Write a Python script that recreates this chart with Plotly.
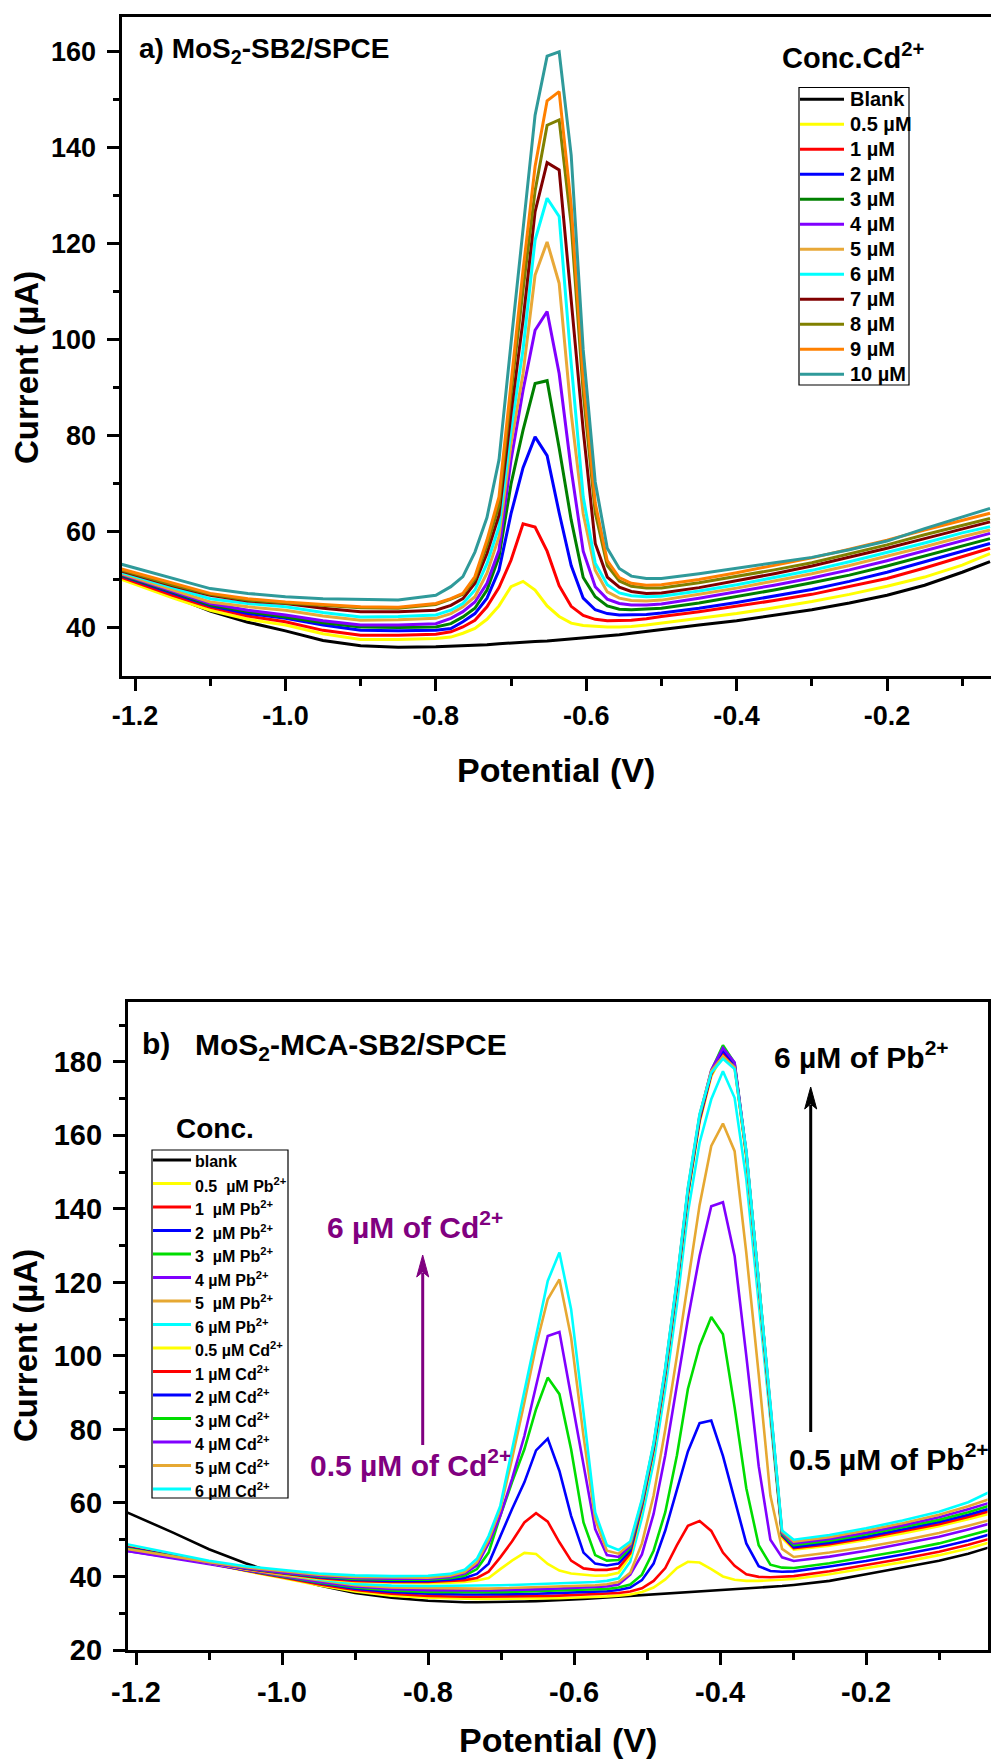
import plotly.graph_objects as go

W, H = 991, 1760

# ---------------- Panel a: MoS2-SB2/SPCE, Cd2+ additions ----------------
potential_a = [-1.221, -1.15, -1.10, -1.05, -1.00, -0.95, -0.90, -0.85, -0.80, -0.78,
               -0.764, -0.748, -0.732, -0.716, -0.700, -0.684, -0.668, -0.652, -0.636, -0.620,
               -0.604, -0.588, -0.572, -0.556, -0.540, -0.52, -0.50, -0.45, -0.40, -0.35,
               -0.30, -0.25, -0.20, -0.15, -0.10, -0.063]

blank_a = [50.7, 46.6, 43.5, 41.2, 39.4, 37.4, 36.3, 36.0, 36.1, 36.2, 36.3, 36.4, 36.5, 36.7, 36.9, 37.1, 37.2, 37.3, 37.5, 37.7, 37.9, 38.1, 38.3, 38.6, 38.9, 39.3, 39.7, 40.6, 41.5, 42.6, 43.8, 45.2, 46.8, 48.9, 51.6, 53.8]
cd05_a = [50.3, 46.3, 43.7, 41.8, 40.6, 38.8, 37.6, 37.6, 37.8, 38.1, 38.9, 39.9, 41.8, 44.6, 48.6, 49.7, 47.9, 44.6, 42.4, 41.0, 40.5, 40.3, 40.2, 40.2, 40.3, 40.6, 41.0, 42.0, 43.0, 44.2, 45.5, 47.0, 48.7, 50.6, 53.1, 55.5]
cd1_a = [50.7, 46.8, 44.3, 42.5, 41.3, 39.5, 38.5, 38.5, 38.7, 39.2, 40.2, 41.6, 44.4, 48.4, 54.1, 61.7, 61.0, 56.0, 48.8, 44.5, 42.6, 41.8, 41.5, 41.5, 41.6, 41.9, 42.4, 43.4, 44.5, 45.7, 47.0, 48.6, 50.3, 52.5, 54.8, 56.6]
cd2_a = [51.0, 47.2, 44.6, 43.0, 42.0, 40.6, 39.5, 39.4, 39.5, 39.9, 41.3, 43.0, 46.2, 52.0, 63.8, 73.4, 79.8, 75.9, 64.0, 53.0, 46.2, 43.8, 43.0, 42.7, 42.7, 42.8, 43.1, 44.1, 45.3, 46.6, 48.0, 49.7, 51.6, 53.8, 55.9, 57.6]
cd3_a = [51.1, 47.5, 44.8, 43.4, 42.3, 41.1, 40.2, 40.1, 40.2, 40.9, 42.3, 44.1, 47.9, 54.8, 70.0, 81.2, 90.9, 91.5, 77.5, 62.5, 50.5, 46.5, 44.6, 43.9, 43.8, 43.9, 44.1, 45.2, 46.5, 47.9, 49.4, 51.0, 52.9, 55.0, 57.1, 58.6]
cd4_a = [51.3, 47.7, 45.1, 43.7, 42.7, 41.5, 40.6, 40.6, 40.9, 42.0, 43.4, 45.4, 49.3, 56.2, 75.0, 89.5, 102.0, 105.9, 93.0, 73.0, 56.0, 48.6, 46.0, 45.1, 44.8, 44.8, 45.0, 46.2, 47.5, 48.9, 50.4, 52.1, 54.0, 56.1, 58.2, 59.7]
cd5_a = [51.5, 48.0, 45.4, 44.4, 43.7, 42.5, 41.6, 41.7, 42.0, 43.0, 44.4, 46.5, 51.4, 59.0, 78.4, 93.0, 113.5, 120.4, 111.8, 84.7, 63.8, 52.0, 47.5, 46.2, 45.7, 45.6, 45.8, 47.0, 48.3, 49.8, 51.3, 53.0, 54.9, 56.9, 59.0, 60.4]
cd6_a = [51.7, 48.4, 46.1, 45.1, 44.4, 43.2, 42.3, 42.4, 42.7, 43.7, 45.1, 47.9, 53.4, 61.1, 81.2, 98.0, 120.8, 129.5, 125.7, 95.1, 67.3, 53.5, 49.0, 47.3, 46.7, 46.5, 46.6, 47.7, 49.0, 50.5, 52.0, 53.8, 55.7, 57.7, 59.8, 61.1]
cd7_a = [52.0, 48.8, 46.8, 45.6, 45.1, 44.1, 43.4, 43.4, 43.7, 44.7, 46.1, 49.3, 55.5, 63.5, 84.7, 104.1, 126.7, 136.9, 135.4, 107.6, 81.2, 57.6, 50.6, 48.5, 47.6, 47.2, 47.3, 48.4, 49.8, 51.3, 52.9, 54.7, 56.6, 58.6, 60.7, 62.1]
cd8_a = [52.2, 49.0, 47.0, 45.8, 45.2, 44.7, 44.2, 44.1, 44.9, 46.0, 47.0, 50.2, 57.2, 65.5, 88.8, 110.4, 131.0, 144.7, 145.8, 124.0, 89.0, 64.0, 53.0, 49.8, 48.7, 48.3, 48.3, 49.4, 50.7, 52.1, 53.6, 55.4, 57.3, 59.4, 61.4, 62.8]
cd9_a = [52.4, 49.3, 47.2, 46.1, 45.4, 44.9, 44.4, 44.3, 45.1, 46.1, 47.2, 50.7, 58.3, 67.3, 91.6, 114.5, 136.1, 149.8, 151.7, 128.0, 92.0, 66.0, 54.0, 50.5, 49.3, 48.9, 49.0, 50.1, 51.5, 53.0, 54.6, 56.4, 58.3, 60.4, 62.5, 63.9]
cd10_a = [53.4, 50.3, 48.2, 47.2, 46.5, 46.1, 45.9, 45.8, 46.8, 48.6, 50.7, 55.8, 63.0, 75.0, 99.3, 123.6, 146.8, 159.1, 160.0, 138.5, 97.9, 70.4, 56.6, 52.4, 50.8, 50.3, 50.3, 51.3, 52.4, 53.5, 54.7, 56.3, 58.1, 60.7, 63.1, 64.9]

labels_a = ["Blank", "0.5 µM", "1 µM", "2 µM", "3 µM", "4 µM", "5 µM", "6 µM",
            "7 µM", "8 µM", "9 µM", "10 µM"]
colors_a = ["#000000", "#FFFF00", "#FF0000", "#0000FF", "#008000", "#8000FF", "#E8A838",
            "#00FFFF", "#800000", "#808000", "#FF8000", "#2F9A9A"]
series_a = [blank_a, cd05_a, cd1_a, cd2_a, cd3_a, cd4_a, cd5_a, cd6_a, cd7_a, cd8_a, cd9_a, cd10_a]

# ---------------- Panel b: MoS2-MCA-SB2/SPCE, Pb2+ then Cd2+ additions ----------------
potential_b = [-1.213, -1.15, -1.10, -1.05, -1.00, -0.95, -0.90, -0.85, -0.80, -0.77,
               -0.75, -0.733, -0.717, -0.701, -0.685, -0.668, -0.652, -0.636, -0.620, -0.604,
               -0.587, -0.571, -0.555, -0.539, -0.523, -0.507, -0.491, -0.475, -0.459, -0.444,
               -0.428, -0.412, -0.396, -0.380, -0.364, -0.347, -0.331, -0.315, -0.299, -0.25,
               -0.20, -0.15, -0.10, -0.06, -0.0315]

blank_b = [57.5, 52.0, 47.4, 43.6, 40.3, 37.6, 35.5, 34.2, 33.4, 33.1, 33.0, 33.0, 33.0, 33.0, 33.1, 33.2, 33.3, 33.4, 33.5, 33.7, 33.9, 34.1, 34.3, 34.5, 34.7, 34.9, 35.1, 35.3, 35.5, 35.7, 35.9, 36.1, 36.3, 36.5, 36.7, 36.9, 37.1, 37.4, 37.7, 38.8, 40.6, 42.4, 44.3, 46.2, 47.9]
pb05_b = [48.3, 45.6, 43.5, 41.5, 39.6, 37.6, 35.9, 34.8, 34.2, 34.0, 33.9, 33.9, 33.9, 33.9, 33.9, 33.9, 34.0, 34.0, 34.1, 34.2, 34.3, 34.4, 34.6, 34.8, 35.1, 35.8, 37.0, 39.2, 42.3, 44.0, 43.8, 42.0, 40.0, 39.1, 38.8, 38.8, 38.9, 39.1, 39.3, 40.6, 42.2, 43.9, 45.8, 47.6, 49.2]
pb1_b = [48.0, 45.5, 43.5, 41.6, 39.8, 37.9, 36.3, 35.3, 34.7, 34.5, 34.5, 34.5, 34.5, 34.5, 34.5, 34.6, 34.6, 34.7, 34.8, 34.9, 35.0, 35.1, 35.3, 35.5, 35.9, 36.8, 38.8, 42.3, 48.5, 53.8, 55.1, 52.4, 46.5, 42.9, 40.6, 39.9, 39.8, 39.9, 40.1, 41.4, 43.0, 44.8, 46.7, 48.6, 50.2]
pb2_b = [47.8, 45.4, 43.5, 41.7, 40.0, 38.2, 36.7, 35.8, 35.3, 35.1, 35.1, 35.1, 35.1, 35.1, 35.2, 35.2, 35.3, 35.4, 35.5, 35.6, 35.7, 35.8, 36.0, 36.3, 37.0, 39.0, 43.5, 52.5, 63.5, 74.0, 81.7, 82.4, 72.8, 61.0, 49.0, 42.8, 41.5, 41.3, 41.4, 42.7, 44.2, 46.0, 47.9, 49.8, 51.4]
pb3_b = [47.6, 45.3, 43.5, 41.8, 40.1, 38.4, 37.0, 36.2, 35.8, 35.7, 35.7, 35.7, 35.7, 35.7, 35.8, 35.8, 35.9, 36.0, 36.1, 36.2, 36.3, 36.4, 36.6, 37.0, 37.8, 40.5, 47.0, 57.5, 73.0, 91.0, 102.7, 110.6, 105.9, 86.0, 64.0, 48.5, 43.2, 42.4, 42.3, 43.6, 45.2, 47.0, 49.0, 51.0, 52.6]
pb4_b = [47.0, 45.0, 43.4, 41.8, 40.2, 38.6, 37.3, 36.6, 36.3, 36.2, 36.2, 36.2, 36.2, 36.3, 36.3, 36.4, 36.5, 36.6, 36.7, 36.8, 36.9, 37.0, 37.3, 37.8, 40.5, 46.0, 57.0, 73.0, 92.0, 110.0, 127.2, 140.7, 141.8, 127.2, 100.0, 70.0, 50.0, 45.2, 44.2, 45.4, 47.0, 48.8, 50.8, 52.8, 54.3]
pb5_b = [47.5, 45.3, 43.6, 42.0, 40.4, 38.9, 37.6, 37.0, 36.8, 36.7, 36.7, 36.7, 36.7, 36.8, 36.8, 36.9, 37.0, 37.1, 37.2, 37.3, 37.4, 37.6, 37.9, 38.5, 41.0, 49.0, 62.0, 80.0, 100.0, 120.0, 141.0, 157.1, 163.2, 155.7, 128.0, 95.0, 62.0, 47.5, 45.3, 46.5, 48.0, 49.8, 51.8, 53.8, 55.3]
pb6_b = [48.2, 45.8, 44.0, 42.3, 40.7, 39.2, 38.0, 37.5, 37.4, 37.4, 37.5, 37.5, 37.6, 37.6, 37.7, 37.8, 37.9, 38.0, 38.1, 38.2, 38.3, 38.5, 38.8, 39.5, 44.0, 56.0, 71.0, 91.0, 114.0, 139.0, 158.0, 169.8, 177.4, 170.2, 148.0, 115.0, 82.0, 51.0, 48.2, 49.3, 50.8, 52.6, 54.6, 56.5, 58.0]
cd05_b = [48.5, 45.8, 43.8, 42.0, 40.6, 39.4, 38.6, 38.3, 38.2, 38.3, 38.5, 38.9, 39.6, 42.0, 44.3, 46.4, 46.1, 43.4, 41.6, 40.8, 40.4, 40.2, 40.3, 41.0, 45.5, 58.5, 74.0, 94.5, 118.5, 143.5, 163.5, 176.0, 182.0, 178.5, 154.0, 119.0, 85.0, 50.5, 47.3, 48.4, 49.9, 51.7, 53.7, 55.6, 57.0]
cd1_b = [48.0, 45.6, 43.8, 42.1, 40.8, 39.6, 38.8, 38.5, 38.5, 38.7, 39.0, 39.6, 41.3, 45.2, 49.5, 54.7, 57.2, 54.9, 49.3, 44.3, 42.2, 41.8, 41.8, 42.3, 46.3, 59.0, 74.5, 95.0, 119.0, 144.0, 164.0, 176.5, 182.5, 179.0, 154.5, 119.5, 85.5, 51.0, 47.7, 48.8, 50.4, 52.2, 54.2, 56.2, 57.7]
cd2_b = [47.8, 45.5, 43.8, 42.2, 40.9, 39.8, 39.1, 38.8, 38.8, 39.1, 39.6, 40.7, 43.5, 51.1, 58.3, 65.6, 74.3, 77.5, 68.7, 56.5, 46.5, 43.5, 43.0, 43.5, 47.0, 59.5, 75.0, 95.5, 119.5, 144.5, 164.5, 177.0, 183.0, 179.3, 155.0, 120.0, 86.0, 51.3, 48.0, 49.2, 50.8, 52.7, 54.8, 56.8, 58.4]
cd3_b = [47.6, 45.4, 43.8, 42.3, 41.0, 40.0, 39.3, 39.1, 39.1, 39.5, 40.2, 42.0, 46.5, 56.5, 65.6, 74.6, 85.5, 94.1, 89.6, 74.6, 54.7, 45.8, 44.3, 44.5, 47.8, 60.0, 75.5, 96.0, 120.0, 145.0, 165.0, 177.5, 184.5, 179.7, 155.3, 120.3, 86.3, 51.6, 48.5, 49.7, 51.4, 53.3, 55.4, 57.5, 59.2]
cd4_b = [47.0, 45.1, 43.7, 42.3, 41.1, 40.2, 39.6, 39.4, 39.4, 39.9, 40.8, 43.0, 49.0, 56.5, 66.5, 78.2, 91.8, 105.4, 106.5, 88.9, 70.4, 52.9, 45.8, 45.3, 48.3, 60.3, 75.8, 96.3, 120.3, 145.3, 165.3, 177.8, 183.8, 179.8, 155.5, 120.5, 86.5, 51.9, 49.0, 50.2, 51.9, 53.9, 56.1, 58.3, 60.0]
cd5_b = [47.5, 45.4, 43.9, 42.5, 41.4, 40.5, 39.9, 39.7, 39.7, 40.2, 41.2, 43.8, 50.0, 58.3, 71.9, 87.3, 102.7, 115.4, 120.8, 105.0, 78.2, 55.6, 47.0, 46.2, 48.8, 60.6, 76.0, 96.5, 120.5, 145.5, 165.5, 177.5, 181.5, 178.5, 155.0, 120.5, 86.5, 52.2, 49.5, 50.7, 52.5, 54.5, 56.8, 59.1, 61.0]
cd6_b = [48.8, 46.2, 44.3, 42.8, 41.7, 40.8, 40.3, 40.1, 40.2, 40.7, 41.8, 44.8, 51.0, 59.2, 74.4, 90.6, 105.6, 120.4, 128.1, 112.7, 84.6, 57.4, 48.5, 47.2, 49.5, 61.0, 76.3, 96.8, 120.8, 145.8, 165.8, 177.0, 180.8, 178.0, 155.8, 121.0, 87.0, 52.5, 50.0, 51.3, 53.1, 55.2, 57.6, 60.2, 62.9]

labels_b = ["blank",
            "0.5\u00a0\u00a0µM Pb<sup>2+</sup>", "1\u00a0\u00a0µM Pb<sup>2+</sup>",
            "2\u00a0\u00a0µM Pb<sup>2+</sup>", "3\u00a0\u00a0µM Pb<sup>2+</sup>",
            "4 µM Pb<sup>2+</sup>", "5\u00a0\u00a0µM Pb<sup>2+</sup>", "6 µM Pb<sup>2+</sup>",
            "0.5 µM Cd<sup>2+</sup>", "1 µM Cd<sup>2+</sup>", "2 µM Cd<sup>2+</sup>",
            "3 µM Cd<sup>2+</sup>", "4 µM Cd<sup>2+</sup>", "5 µM Cd<sup>2+</sup>",
            "6 µM Cd<sup>2+</sup>"]
colors_b = ["#000000",
            "#FFFF00", "#FF0000", "#0000FF", "#00DD00", "#8000FF", "#E6A832", "#00FFFF",
            "#FFFF00", "#FF0000", "#0000FF", "#00DD00", "#8000FF", "#E6A832", "#00FFFF"]
series_b = [blank_b, pb05_b, pb1_b, pb2_b, pb3_b, pb4_b, pb5_b, pb6_b,
            cd05_b, cd1_b, cd2_b, cd3_b, cd4_b, cd5_b, cd6_b]

# axis ticks
xtick_vals = [-1.2, -1.0, -0.8, -0.6, -0.4, -0.2]
xtick_text = ["-1.2", "-1.0", "-0.8", "-0.6", "-0.4", "-0.2"]
xminor_vals = [-1.1, -0.9, -0.7, -0.5, -0.3, -0.1]

FONT = "Arial, 'Liberation Sans', sans-serif"


def px(x):
    return x / W


def py(y):
    return 1 - y / H


fig = go.Figure()

for ys, name, col in zip(series_a, labels_a, colors_a):
    fig.add_trace(go.Scatter(x=potential_a, y=ys, mode="lines", name=name,
                             line=dict(color=col, width=3), xaxis="x", yaxis="y",
                             showlegend=False))
for ys, name, col in zip(series_b, labels_b, colors_b):
    fig.add_trace(go.Scatter(x=potential_b, y=ys, mode="lines", name=name,
                             line=dict(color=col, width=2.6), xaxis="x2", yaxis="y2",
                             showlegend=False))


def xaxis_cfg(domain, rng, anchor, size):
    return dict(domain=domain, range=rng, anchor=anchor, automargin=False,
                showline=True, linewidth=3,
                linecolor="black", mirror=True, ticks="outside", ticklen=12, tickwidth=2.5,
                tickcolor="black", tickmode="array", tickvals=xtick_vals, ticktext=xtick_text,
                minor=dict(tickvals=xminor_vals, ticks="outside", ticklen=7, tickwidth=2.5,
                           tickcolor="black"),
                tickfont=dict(family=FONT, size=size, color="black", weight="bold"),
                ticklabelstandoff=2, showgrid=False, zeroline=False)


def yaxis_cfg(domain, rng, anchor, size, mirror):
    return dict(domain=domain, range=rng, anchor=anchor, automargin=False,
                showline=True, linewidth=3,
                linecolor="black", mirror=mirror, ticks="outside", ticklen=12, tickwidth=2.5,
                tickcolor="black", tick0=0, dtick=20,
                minor=dict(dtick=10, tick0=0, ticks="outside", ticklen=6, tickwidth=2.5,
                           tickcolor="black"),
                tickfont=dict(family=FONT, size=size, color="black", weight="bold"),
                ticklabelstandoff=5, showgrid=False, zeroline=False)


fig.update_layout(
    template="none",
    width=W, height=H, margin=dict(l=0, r=0, t=0, b=0, autoexpand=False),
    paper_bgcolor="white", plot_bgcolor="white",
    font=dict(family=FONT, color="black", size=16),
    showlegend=False,
    xaxis=xaxis_cfg([px(121.5), 1.0], [-1.218, -0.0617], "y", 27),
    yaxis=yaxis_cfg([py(675.5), py(17.2)], [30.1, 167.2], "x", 27, False),
    xaxis2=xaxis_cfg([px(127.9), px(987.5)], [-1.2111, -0.0336], "y2", 29),
    yaxis2=yaxis_cfg([py(1650), py(1001.5)], [20, 196.4], "x2", 29, True),
)

shapes = []
annotations = []


def text(x, y, s, size, color="black", xanchor="left", yanchor="middle", angle=0):
    annotations.append(dict(x=px(x), y=py(y), xref="paper", yref="paper", text=s,
                            showarrow=False, xanchor=xanchor, yanchor=yanchor,
                            textangle=angle,
                            font=dict(family=FONT, size=size, color=color, weight="bold")))


# axis titles
text(556, 770, "Potential (V)", 34, xanchor="center")
text(26, 368, "Current (µA)", 33, xanchor="center", angle=-90)
text(558, 1740, "Potential (V)", 34, xanchor="center")
text(25, 1346, "Current (µA)", 33, xanchor="center", angle=-90)

# panel labels
text(137, 50, "a) MoS<sub>2</sub>-SB2/SPCE", 28)
text(140, 1043, "b)", 30)
text(193, 1046, "MoS<sub>2</sub>-MCA-SB2/SPCE", 30)

# legend of panel a
text(780, 56, "Conc.Cd<sup>2+</sup>", 29)
shapes.append(dict(type="rect", xref="paper", yref="paper", x0=px(799), x1=px(909),
                   y0=py(87.5), y1=py(385), line=dict(color="black", width=1.2)))
for i, (name, col) in enumerate(zip(labels_a, colors_a)):
    yc = 99.3 + 25 * i
    shapes.append(dict(type="line", xref="paper", yref="paper", x0=px(800), x1=px(844),
                       y0=py(yc), y1=py(yc), line=dict(color=col, width=3)))
    text(848, yc, name, 20)

# legend of panel b
text(174, 1128, "Conc.", 28)
shapes.append(dict(type="rect", xref="paper", yref="paper", x0=px(152), x1=px(288),
                   y0=py(1150), y1=py(1498), line=dict(color="black", width=1.2)))
for i, (name, col) in enumerate(zip(labels_b, colors_b)):
    yc = 1160 + 23.5 * i
    shapes.append(dict(type="line", xref="paper", yref="paper", x0=px(153), x1=px(191),
                       y0=py(yc), y1=py(yc), line=dict(color=col, width=3)))
    text(193, yc + 1, name, 16)

# concentration arrows in panel b
PURPLE = "#800080"


def arrow(x, y_tail, y_tip, col):
    head_len, half_w = 22, 6
    shapes.append(dict(type="line", xref="paper", yref="paper", x0=px(x), x1=px(x),
                       y0=py(y_tail), y1=py(y_tip + head_len - 4), line=dict(color=col, width=3)))
    path = "M {} {} L {} {} L {} {} L {} {} Z".format(
        px(x), py(y_tip), px(x - half_w), py(y_tip + head_len),
        px(x), py(y_tip + head_len - 5), px(x + half_w), py(y_tip + head_len))
    shapes.append(dict(type="path", xref="paper", yref="paper", path=path,
                       fillcolor=col, line=dict(color=col, width=1)))


arrow(422.7, 1445, 1255, PURPLE)
arrow(810.7, 1432, 1087, "black")

text(325, 1225, "6 µM of Cd<sup>2+</sup>", 30, color=PURPLE)
text(308, 1463, "0.5 µM of Cd<sup>2+</sup>", 30, color=PURPLE)
text(772, 1055, "6 µM of Pb<sup>2+</sup>", 30)
text(787, 1457, "0.5 µM of Pb<sup>2+</sup>", 30)

fig.update_layout(shapes=shapes, annotations=annotations)

fig.write_html("out.html")
